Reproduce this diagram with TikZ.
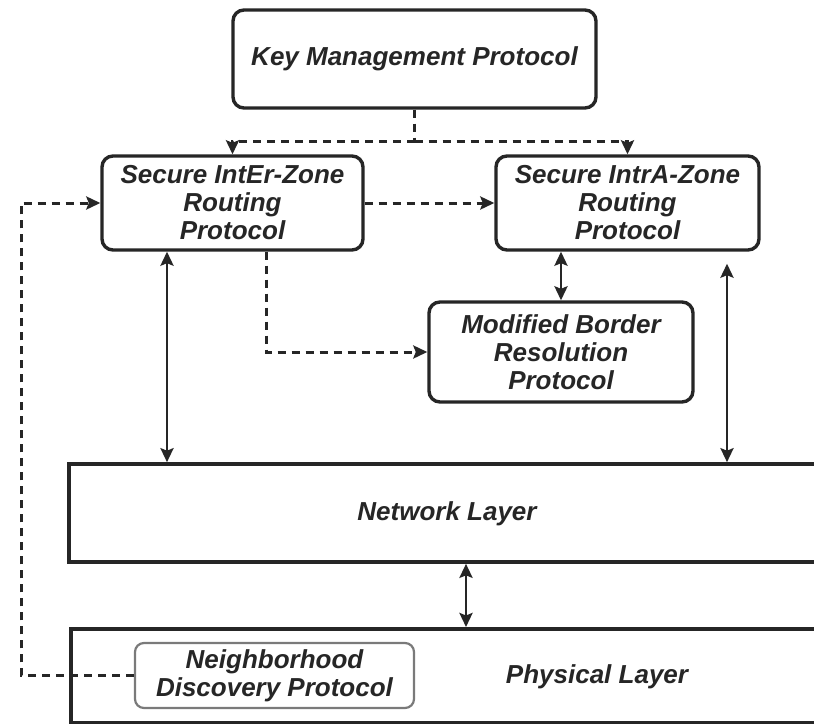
\documentclass[tikz,border=0pt]{standalone}
\usepackage{fontspec}
\setmainfont{Liberation Sans}
\usetikzlibrary{arrows.meta}
\definecolor{ink}{HTML}{262626}
\definecolor{softink}{HTML}{7A7A7A}
\tikzset{
  tip/.style={Stealth[length=14pt,width=13pt,inset=2.5pt]},
  proto/.style={draw=ink, line width=3.4pt, rounded corners=11pt, align=center,
    font=\fontsize{26}{28}\selectfont\bfseries\itshape, text=ink, inner sep=0pt},
  layer/.style={draw=ink, line width=3.6pt, inner sep=0pt},
  lbl/.style={font=\fontsize{26}{28}\selectfont\bfseries\itshape, text=ink},
  dlink/.style={draw=ink, line width=3pt, dash pattern=on 8pt off 6pt, -{Stealth[length=14pt,width=13pt,inset=2.5pt]}},
  dline/.style={draw=ink, line width=3pt, dash pattern=on 8pt off 6pt},
  biarrow/.style={draw=ink, line width=2.8pt,
    {Stealth[length=14pt,width=13pt,inset=2.5pt]}-{Stealth[length=14pt,width=13pt,inset=2.5pt]}}
}
\begin{document}
\begin{tikzpicture}[x=1pt,y=-1pt]
  \clip (0,0) rectangle (814,723);
  \fill[white] (0,0) rectangle (814,723);

  % protocol boxes
  \node[proto, minimum width=363pt, minimum height=98pt] (key) at (414.5,59) {Key Management Protocol};
  \node[proto, minimum width=261pt, minimum height=94pt] (inter) at (232.5,203) {Secure IntEr-Zone\\Routing\\Protocol};
  \node[proto, minimum width=263pt, minimum height=94pt] (intra) at (627.5,203) {Secure IntrA-Zone\\Routing\\Protocol};
  \node[proto, minimum width=264pt, minimum height=100pt] (mbr) at (561,352) {Modified Border\\Resolution\\Protocol};

  % layers (right edges run past the page)
  \node[layer, minimum width=756pt, minimum height=98pt] (net) at (447,513) {};
  \node[lbl] (nettext) at (447,514) {Network Layer};
  \node[layer, minimum width=780pt, minimum height=94pt, anchor=north west] (phy) at (69,627) {};
  \node[lbl] (phytext) at (597,677) {Physical Layer};
  \node[proto, draw=softink, line width=2.2pt, rounded corners=9pt,
        minimum width=279pt, minimum height=65pt] (nd) at (274.5,675.5) {Neighborhood\\Discovery Protocol};

  % helper coordinates for bends and vertical runs
  \coordinate (lc) at (21,400);
  \coordinate (ax) at (167,0);
  \coordinate (bx) at (727,0);
  \coordinate (cx) at (466,0);
  \coordinate (dx) at (266,0);

  % key distribution
  \draw[dline] (key.south) -- ++(0,32) coordinate (kj);
  \draw[dlink] (kj) -| (inter.north);
  \draw[dlink] (kj) -| (intra.north);

  % dashed flows
  \draw[dlink] (inter.east) -- (intra.west);
  \draw[dlink] (inter.south -| dx) |- (mbr.west);
  \draw[dlink] (nd.west) -- (nd.west -| lc) |- (inter.west);

  % bidirectional links
  \draw[biarrow] (inter.south -| ax) -- (net.north -| ax);
  \draw[biarrow, shorten <=12pt] (intra.south -| bx) -- (net.north -| bx);
  \draw[biarrow] (mbr.north |- intra.south) -- (mbr.north);
  \draw[biarrow] (net.south -| cx) -- (phy.north -| cx);
\end{tikzpicture}
\end{document}
